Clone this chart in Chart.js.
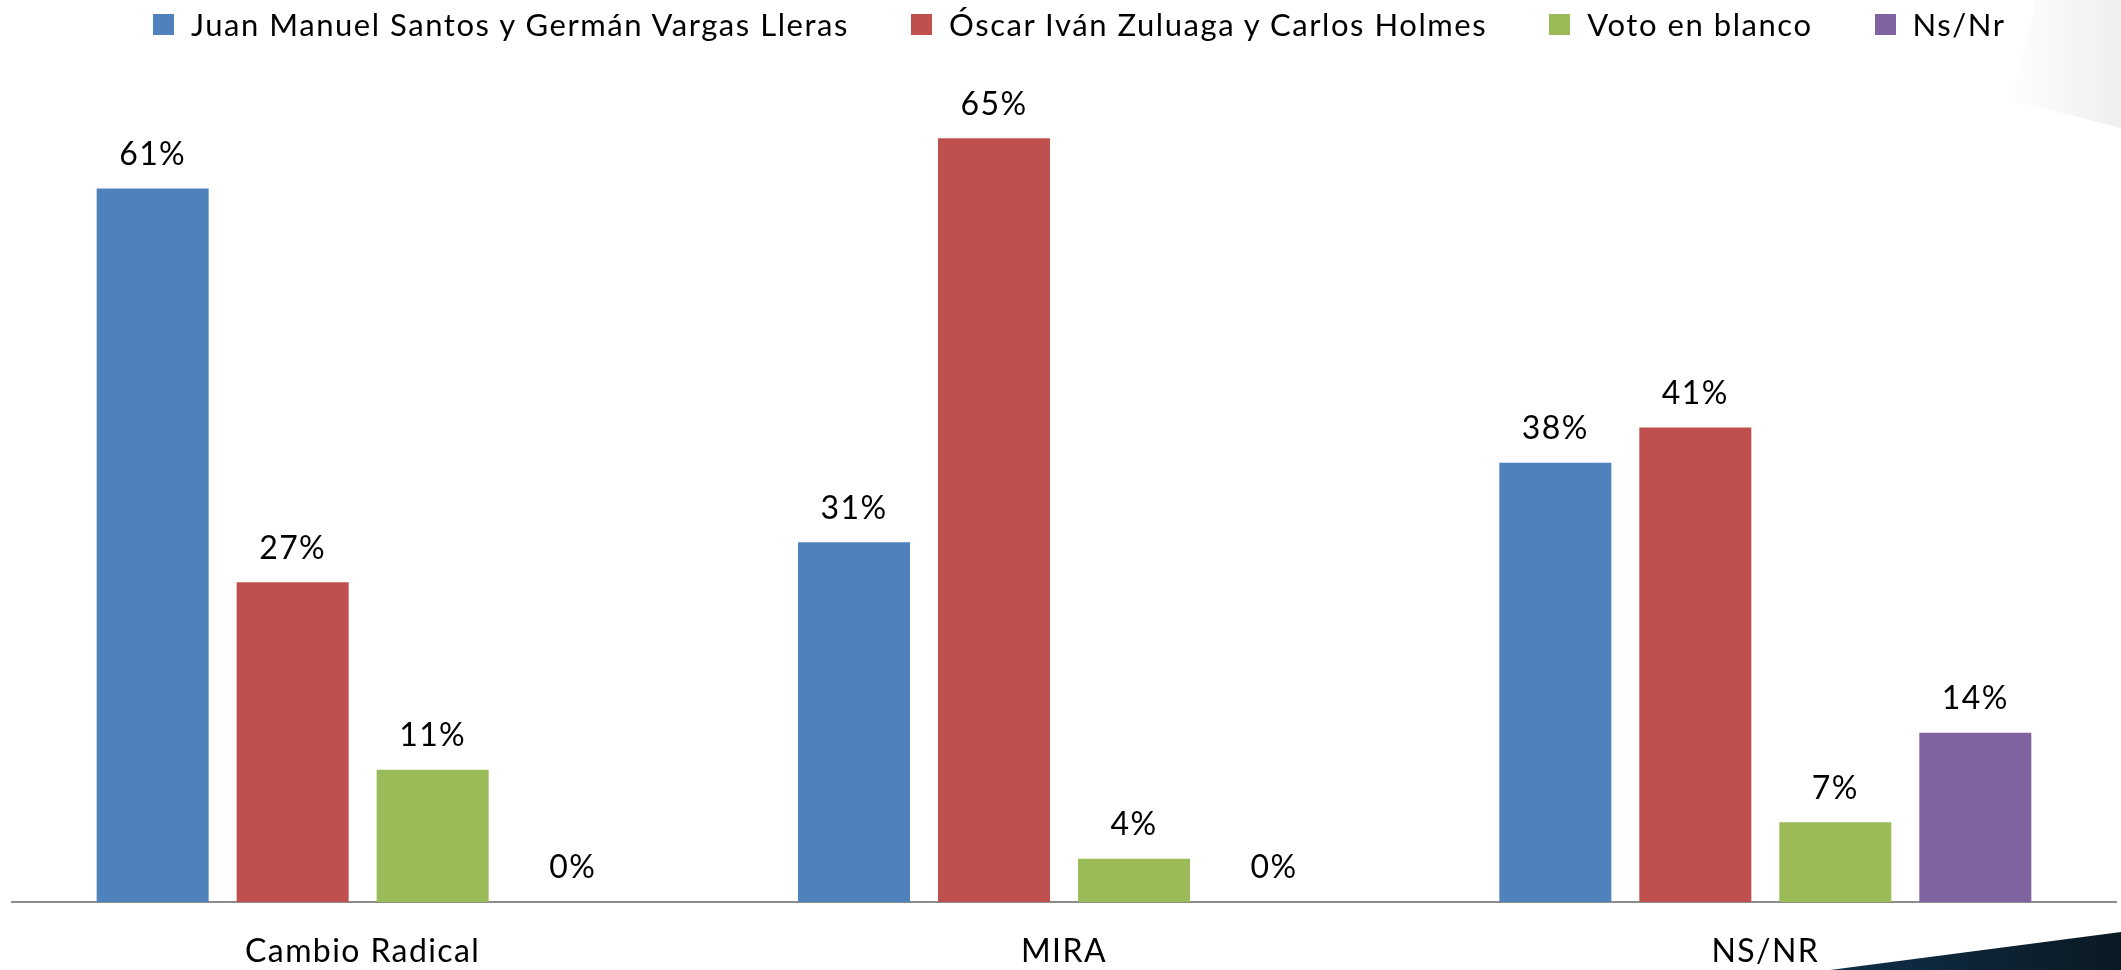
<!DOCTYPE html>
<html>
<head>
<meta charset="utf-8">
<script src="https://cdn.jsdelivr.net/npm/chart.js@4/dist/chart.umd.min.js"></script>
<style>
  html, body { margin: 0; padding: 0; background: #fff; }
  #wrap { position: relative; width: 2121px; height: 970px; overflow: hidden; }
  #grafico { position: absolute; left: 0; top: 0; }
  #leyenda {
    position: absolute; top: 0; left: 0; width: 2121px; height: 48px;
    display: flex; justify-content: flex-start; align-items: center;
    font-family: Lato, Calibri, sans-serif; font-size: 31px; color: #000;
    letter-spacing: 1.55px;
    padding-left: 153px; box-sizing: border-box;
  }
  #leyenda .item { display: flex; align-items: center; margin-right: 62px; white-space: nowrap; }
  #leyenda .caja { width: 21px; height: 21px; margin-right: 17px; }
</style>
</head>
<body>
<div id="wrap">
  <canvas id="grafico" width="2121" height="970"></canvas>
  <div id="leyenda"></div>
</div>
<script>
const categorias = ['Cambio Radical', 'MIRA', 'NS/NR'];
const series = ['Juan Manuel Santos y Germán Vargas Lleras', 'Óscar Iván Zuluaga y Carlos Holmes', 'Voto en blanco', 'Ns/Nr'];
const santosVargas = [60.9, 30.7, 37.5];
const zuluagaHolmes = [27.3, 65.2, 40.5];
const votoBlanco = [11.3, 3.7, 6.8];
const nsNr = [0, 0, 14.45];
const colores = ['#4F81BD', '#C0504D', '#9BBB59', '#8064A2'];

const valores = [santosVargas, zuluagaHolmes, votoBlanco, nsNr];

// Etiquetas de porcentaje encima de cada barra
const etiquetasPlugin = {
    id: 'etiquetas',
    afterDatasetsDraw(chart) {
        const ctx = chart.ctx;
        ctx.save();
        ctx.font = '32px Lato, Calibri, sans-serif';
        ctx.fillStyle = '#000';
        ctx.textAlign = 'center';
        ctx.textBaseline = 'middle';
        chart.data.datasets.forEach((ds, i) => {
            const meta = chart.getDatasetMeta(i);
            meta.data.forEach((bar, j) => {
                ctx.fillText(Math.round(ds.data[j]) + '%', bar.x, bar.y - 34);
            });
        });
        ctx.restore();
    }
};

// Formas decorativas del fondo (esquinas)
const decoracionPlugin = {
    id: 'decoracion',
    beforeDraw(chart) {
        const ctx = chart.ctx;
        const w = chart.width, h = chart.height;
        ctx.save();
        let g = ctx.createLinearGradient(w - 120, 0, w, 0);
        g.addColorStop(0, '#ffffff');
        g.addColorStop(1, '#efefef');
        ctx.fillStyle = g;
        ctx.beginPath();
        ctx.moveTo(w - 85, 0);
        ctx.lineTo(w - 110, 100);
        ctx.lineTo(w, 128);
        ctx.lineTo(w, 0);
        ctx.closePath();
        ctx.fill();

        g = ctx.createLinearGradient(w - 290, 0, w, 0);
        g.addColorStop(0, '#0f2f4a');
        g.addColorStop(1, '#0b1923');
        ctx.fillStyle = g;
        ctx.beginPath();
        ctx.moveTo(w - 291, h);
        ctx.lineTo(w, h - 38);
        ctx.lineTo(w, h);
        ctx.closePath();
        ctx.fill();
        ctx.restore();
        // un poco de espacio entre letras, el texto original es más ancho
        ctx.letterSpacing = '1.4px';
    }
};

const ctxGrafico = document.getElementById('grafico').getContext('2d');
new Chart(ctxGrafico, {
    type: 'bar',
    data: {
        labels: categorias,
        datasets: series.map((nombre, i) => ({
            label: nombre,
            data: valores[i],
            backgroundColor: colores[i],
            borderWidth: 0,
            categoryPercentage: 0.7985,
            barPercentage: 0.8,
        })),
    },
    options: {
        responsive: false,
        animation: false,
        layout: {
            padding: { top: 82, left: 12, right: 5, bottom: 0 },
        },
        plugins: {
            legend: { display: false },
            tooltip: { enabled: false },
        },
        scales: {
            x: {
                grid: { display: false, drawTicks: false },
                border: { display: true, color: '#8c8c8c', width: 2 },
                ticks: {
                    color: '#000',
                    padding: 30,
                    font: { family: 'Lato, Calibri, sans-serif', size: 32 },
                },
                afterFit(scale) {
                    scale.height = 68;
                },
            },
            y: {
                display: false,
                min: 0,
                max: 70,
            },
        },
    },
    plugins: [decoracionPlugin, etiquetasPlugin],
});

// Leyenda construida a partir de las series
const leyenda = document.getElementById('leyenda');
series.forEach((nombre, i) => {
    const item = document.createElement('div');
    item.className = 'item';
    const caja = document.createElement('span');
    caja.className = 'caja';
    caja.style.background = colores[i];
    const texto = document.createElement('span');
    texto.textContent = nombre;
    item.appendChild(caja);
    item.appendChild(texto);
    leyenda.appendChild(item);
});
</script>
</body>
</html>
